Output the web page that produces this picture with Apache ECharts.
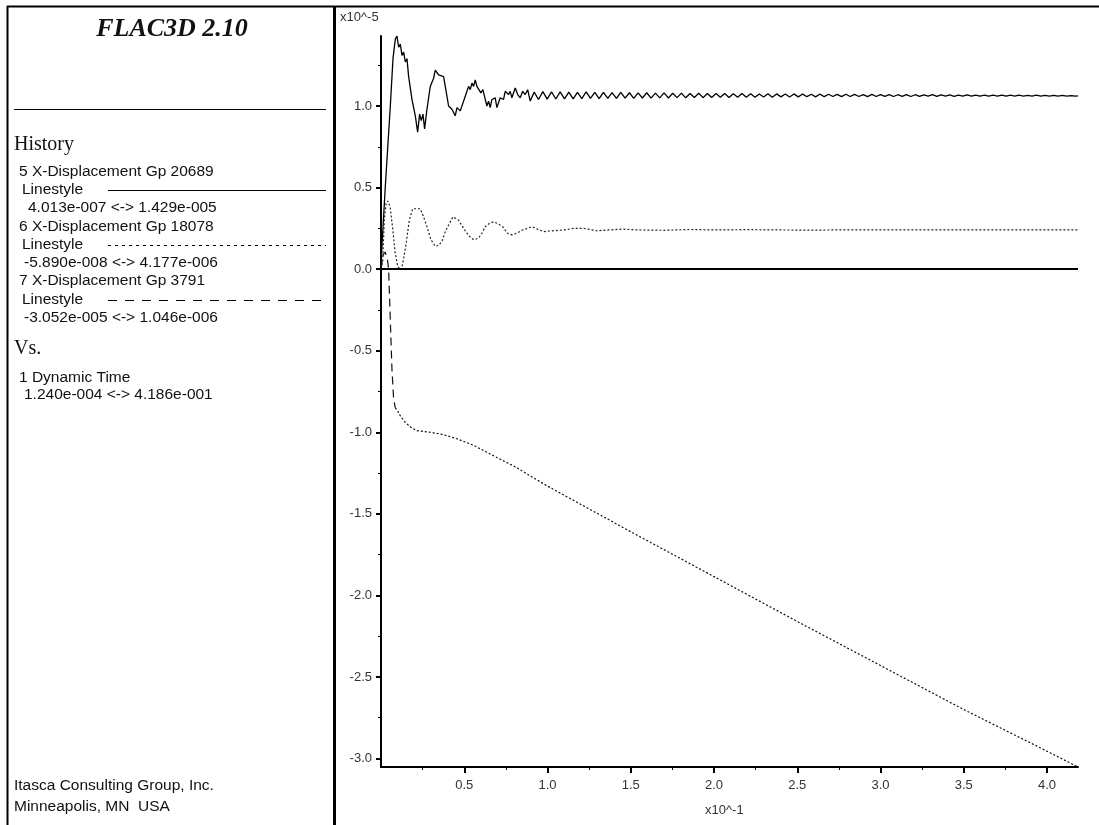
<!DOCTYPE html>
<html>
<head>
<meta charset="utf-8">
<title>FLAC3D history</title>
<script src="https://cdn.jsdelivr.net/npm/echarts@6/dist/echarts.min.js"></script>
<style>
  html, body { margin: 0; padding: 0; background: #fff; }
  #chart { width: 1099px; height: 825px; }
</style>
</head>
<body>
<div id="chart"></div>
<script>
// time in x10^-1 s, displacements in x10^-5
const xMajor = [0.5, 1.0, 1.5, 2.0, 2.5, 3.0, 3.5, 4.0];
const xMinor = [0.25, 0.75, 1.25, 1.75, 2.25, 2.75, 3.25, 3.75];
const yMajor = [-3.0, -2.5, -2.0, -1.5, -1.0, -0.5, 0.0, 0.5, 1.0];
const yMinor = [-2.75, -2.25, -1.75, -1.25, -0.75, -0.25, 0.25, 0.75, 1.25];

// 5 X-Displacement Gp 20689 (solid)
const gp20689Time = [
  0.000, 0.026, 0.056, 0.072, 0.086, 0.096, 0.106, 0.116, 0.126, 0.136, 0.146, 0.156, 0.166, 0.186,
  0.206, 0.220, 0.232, 0.242, 0.252, 0.262, 0.276, 0.296, 0.316, 0.326, 0.346, 0.356, 0.376, 0.386,
  0.406, 0.416, 0.426, 0.446, 0.456, 0.466, 0.476, 0.486, 0.506, 0.526, 0.536, 0.546, 0.556, 0.566,
  0.576, 0.586, 0.600, 0.612, 0.626, 0.636, 0.646, 0.656, 0.666, 0.676, 0.686, 0.696, 0.716, 0.736,
  0.746, 0.756, 0.766, 0.776, 0.786, 0.806, 0.821, 0.836, 0.851, 0.866, 0.881, 0.896,
  0.920, 0.946, 0.972, 0.998, 1.024, 1.050, 1.076, 1.102, 1.128, 1.154, 1.180, 1.206, 1.232, 1.258,
  1.284, 1.310, 1.336, 1.362, 1.388, 1.414, 1.440, 1.466, 1.492, 1.518, 1.544, 1.570, 1.596, 1.622,
  1.648, 1.674, 1.700, 1.726, 1.752, 1.778, 1.804, 1.830, 1.856, 1.882, 1.908, 1.934, 1.960, 1.986,
  2.012, 2.038, 2.064, 2.090, 2.116, 2.142, 2.168, 2.194, 2.220, 2.246, 2.272, 2.298, 2.324, 2.350,
  2.376, 2.402, 2.428, 2.454, 2.480, 2.506, 2.532, 2.558, 2.584, 2.610, 2.636, 2.662, 2.688, 2.714,
  2.740, 2.766, 2.792, 2.818, 2.844, 2.870, 2.896, 2.922, 2.948, 2.974, 3.000, 3.026, 3.052, 3.078,
  3.104, 3.130, 3.156, 3.182, 3.208, 3.234, 3.260, 3.286, 3.312, 3.338, 3.364, 3.390, 3.416, 3.442,
  3.468, 3.494, 3.520, 3.546, 3.572, 3.598, 3.624, 3.650, 3.676, 3.702, 3.728, 3.754, 3.780, 3.806,
  3.832, 3.858, 3.884, 3.910, 3.936, 3.962, 3.988, 4.014, 4.040, 4.066, 4.092, 4.118, 4.144, 4.170,
  4.186
];
const gp20689Disp = [
  0.040, 0.510, 1.000, 1.290, 1.410, 1.429, 1.360, 1.380, 1.310, 1.330, 1.270, 1.290, 1.180, 1.040,
  0.940, 0.840, 0.950, 0.910, 0.950, 0.860, 0.980, 1.120, 1.170, 1.220, 1.190, 1.200, 1.180, 1.120,
  1.000, 1.010, 0.980, 0.940, 0.990, 1.000, 0.970, 0.980, 1.060, 1.120, 1.100, 1.140, 1.120, 1.160,
  1.120, 1.130, 1.080, 1.100, 1.040, 1.000, 1.030, 0.990, 1.040, 1.030, 1.050, 0.990, 1.050, 1.040,
  1.090, 1.100, 1.070, 1.090, 1.050, 1.110, 1.070, 1.050, 1.090, 1.070, 1.100, 1.030,
  1.085, 1.040, 1.088, 1.042, 1.086, 1.043, 1.087, 1.044, 1.085, 1.043, 1.084, 1.045, 1.086, 1.046,
  1.083, 1.045, 1.084, 1.047, 1.082, 1.046, 1.083, 1.048, 1.081, 1.047, 1.080, 1.049, 1.081, 1.048,
  1.079, 1.050, 1.080, 1.049, 1.078, 1.051, 1.079, 1.050, 1.077, 1.052, 1.078, 1.051, 1.077, 1.052,
  1.076, 1.053, 1.077, 1.052, 1.075, 1.054, 1.076, 1.053, 1.075, 1.054, 1.074, 1.055, 1.075, 1.054,
  1.074, 1.056, 1.073, 1.055, 1.074, 1.056, 1.073, 1.057, 1.072, 1.056, 1.073, 1.057, 1.072, 1.058,
  1.071, 1.057, 1.072, 1.058, 1.071, 1.058, 1.070, 1.057, 1.071, 1.058, 1.070, 1.059, 1.070, 1.058,
  1.069, 1.059, 1.070, 1.058, 1.069, 1.059, 1.068, 1.060, 1.069, 1.059, 1.068, 1.060, 1.068, 1.059,
  1.067, 1.060, 1.068, 1.060, 1.067, 1.061, 1.067, 1.060, 1.066, 1.061, 1.067, 1.060, 1.066, 1.061,
  1.066, 1.061, 1.065, 1.060, 1.066, 1.061, 1.065, 1.061, 1.065, 1.060, 1.065, 1.061, 1.064, 1.060,
  1.062
];

// 6 X-Displacement Gp 18078 (dotted)
const gp18078Time = [
  0.000, 0.010, 0.020, 0.030, 0.040, 0.055, 0.070, 0.085, 0.100, 0.116, 0.130, 0.150, 0.170, 0.190,
  0.200, 0.220, 0.236, 0.256, 0.276, 0.300, 0.326, 0.346, 0.366, 0.386, 0.406, 0.432, 0.450, 0.466,
  0.490, 0.516, 0.540, 0.560, 0.586, 0.606, 0.626, 0.650, 0.676, 0.700, 0.730, 0.760, 0.786, 0.816,
  0.850, 0.880, 0.906, 0.940, 0.976, 1.030, 1.096, 1.160, 1.216, 1.296, 1.366, 1.450, 1.550, 1.700,
  1.850, 2.000, 2.200, 2.400, 2.600, 2.800, 3.000, 3.300, 3.600, 3.900, 4.186
];
const gp18078Disp = [
  0.000, 0.050, 0.300, 0.400, 0.418, 0.380, 0.250, 0.100, 0.020, -0.006, 0.030, 0.150, 0.300, 0.370,
  0.380, 0.370, 0.370, 0.320, 0.260, 0.180, 0.140, 0.145, 0.170, 0.230, 0.270, 0.320, 0.310, 0.300,
  0.260, 0.220, 0.190, 0.180, 0.190, 0.220, 0.260, 0.280, 0.290, 0.280, 0.260, 0.220, 0.210, 0.220,
  0.240, 0.250, 0.260, 0.245, 0.230, 0.235, 0.240, 0.250, 0.250, 0.235, 0.240, 0.245, 0.240, 0.238,
  0.243, 0.240, 0.242, 0.240, 0.239, 0.241, 0.240, 0.240, 0.241, 0.240, 0.240
];

// 7 X-Displacement Gp 3791 (dashed)
const gp3791Time = [
  0.000, 0.012, 0.025, 0.040, 0.046, 0.052, 0.060, 0.066, 0.076, 0.086,
  0.100, 0.116, 0.146, 0.180, 0.216, 0.296, 0.376, 0.456, 0.556, 0.696, 0.816, 0.896,
  1.000, 1.500, 2.000, 2.500, 3.000, 3.500, 4.000, 4.186
];
const gp3791Disp = [
  0.000, 0.086, 0.105, 0.050, -0.006, -0.190, -0.440, -0.620, -0.800, -0.850,
  -0.870, -0.900, -0.940, -0.970, -0.990, -1.000, -1.015, -1.040, -1.080, -1.155, -1.217, -1.268,
  -1.330, -1.610, -1.885, -2.160, -2.430, -2.700, -2.955, -3.052
];
const gp3791Knee = 9; // long dashes up to here, fine dashes after

const pairs = (xs, ys) => xs.map((x, i) => [x, ys[i]]);

const sans = "'Liberation Sans', Arial, sans-serif";
const serif = "'Liberation Serif', 'Times New Roman', serif";

function txt(x, y, text, size, family, extra) {
  return {
    type: 'text', silent: true,
    style: Object.assign({ x, y, text, font: size + 'px ' + family, fill: '#111', verticalAlign: 'middle' }, extra || {})
  };
}
function seg(x1, y1, x2, y2, width, dash) {
  return {
    type: 'line', silent: true,
    shape: { x1, y1, x2, y2 },
    style: { stroke: '#000', lineWidth: width, lineDash: dash || null }
  };
}

const body = 15.5;
const panel = [
  seg(7, 6.5, 1099, 6.5, 2),
  seg(7.5, 6, 7.5, 825, 2),
  seg(334.5, 6, 334.5, 825, 3),
  txt(172, 29, 'FLAC3D 2.10', 26, serif, { font: 'italic bold 26px ' + serif, align: 'center' }),
  seg(14, 109.5, 326, 109.5, 1),
  txt(14, 145, 'History', 20, serif),
  txt(19, 172, '5 X-Displacement Gp 20689', body, sans),
  txt(22, 190, 'Linestyle', body, sans),
  seg(108, 190.5, 326, 190.5, 1),
  txt(28, 208, '4.013e-007 <-> 1.429e-005', body, sans),
  txt(19, 227, '6 X-Displacement Gp 18078', body, sans),
  txt(22, 245, 'Linestyle', body, sans),
  seg(108, 245.5, 326, 245.5, 1, [3, 4]),
  txt(24, 263, '-5.890e-008 <-> 4.177e-006', body, sans),
  txt(19, 281, '7 X-Displacement Gp 3791', body, sans),
  txt(22, 300, 'Linestyle', body, sans),
  seg(108, 300.5, 326, 300.5, 1, [9, 8]),
  txt(24, 318, '-3.052e-005 <-> 1.046e-006', body, sans),
  txt(14, 349, 'Vs.', 20, serif),
  txt(19, 378, '1 Dynamic Time', body, sans),
  txt(24, 395, '1.240e-004 <-> 4.186e-001', body, sans),
  txt(14, 786, 'Itasca Consulting Group, Inc.', body, sans),
  txt(14, 807, 'Minneapolis, MN  USA', body, sans),
  txt(340, 17, 'x10^-5', 13, sans, { fill: '#333' }),
  txt(705, 810, 'x10^-1', 13, sans, { fill: '#333' })
];

const axisText = { color: '#333', fontFamily: sans, fontSize: 13 };
const fmt = (v) => Number(v).toFixed(1);

const option = {
  animation: false,
  backgroundColor: '#fff',
  grid: { left: 381, right: 21, top: 36, bottom: 58, containLabel: false },
  xAxis: [
    {
      type: 'value', min: 0, max: 4.186,
      axisLine: { show: true, onZero: false, lineStyle: { color: '#000', width: 2 } },
      axisTick: { show: true, inside: false, length: 6, customValues: xMajor, lineStyle: { color: '#000', width: 2 } },
      axisLabel: { show: true, margin: 12, customValues: xMajor, formatter: fmt, ...axisText },
      splitLine: { show: false }
    },
    {
      type: 'value', min: 0, max: 4.186, position: 'bottom',
      axisLine: { show: false, onZero: false },
      axisTick: { show: true, length: 3, customValues: xMinor, lineStyle: { color: '#000', width: 1 } },
      axisLabel: { show: false },
      splitLine: { show: false }
    }
  ],
  yAxis: [
    {
      type: 'value', min: -3.052, max: 1.429,
      axisLine: { show: true, onZero: false, lineStyle: { color: '#000', width: 2 } },
      axisTick: { show: true, inside: false, length: 5, customValues: yMajor, lineStyle: { color: '#000', width: 2 } },
      axisLabel: { show: true, margin: 9, customValues: yMajor, formatter: fmt, ...axisText },
      splitLine: { show: false }
    },
    {
      type: 'value', min: -3.052, max: 1.429, position: 'left',
      axisLine: { show: false, onZero: false },
      axisTick: { show: true, length: 3, customValues: yMinor, lineStyle: { color: '#000', width: 1 } },
      axisLabel: { show: false },
      splitLine: { show: false }
    }
  ],
  series: [
    {
      name: '5 X-Displacement Gp 20689', type: 'line', showSymbol: false, symbol: 'none',
      data: pairs(gp20689Time, gp20689Disp),
      lineStyle: { color: '#000', width: 1.3, type: 'solid' },
      markLine: {
        silent: true, symbol: 'none', label: { show: false },
        lineStyle: { color: '#000', width: 2, type: 'solid' },
        data: [{ yAxis: 0 }]
      }
    },
    {
      name: '6 X-Displacement Gp 18078', type: 'line', symbol: 'none',
      data: pairs(gp18078Time, gp18078Disp),
      lineStyle: { color: '#222', width: 1.2, type: [2, 2] }
    },
    {
      name: '7 X-Displacement Gp 3791', type: 'line', symbol: 'none',
      data: pairs(gp3791Time, gp3791Disp).slice(0, gp3791Knee + 1),
      lineStyle: { color: '#111', width: 1.2, type: [8, 5] }
    },
    {
      name: '7 X-Displacement Gp 3791', type: 'line', symbol: 'none',
      data: pairs(gp3791Time, gp3791Disp).slice(gp3791Knee),
      lineStyle: { color: '#111', width: 1.2, type: [2, 2] }
    }
  ],
  graphic: panel
};

const chart = echarts.init(document.getElementById('chart'), null, { renderer: 'canvas' });
chart.setOption(option);
</script>
</body>
</html>
